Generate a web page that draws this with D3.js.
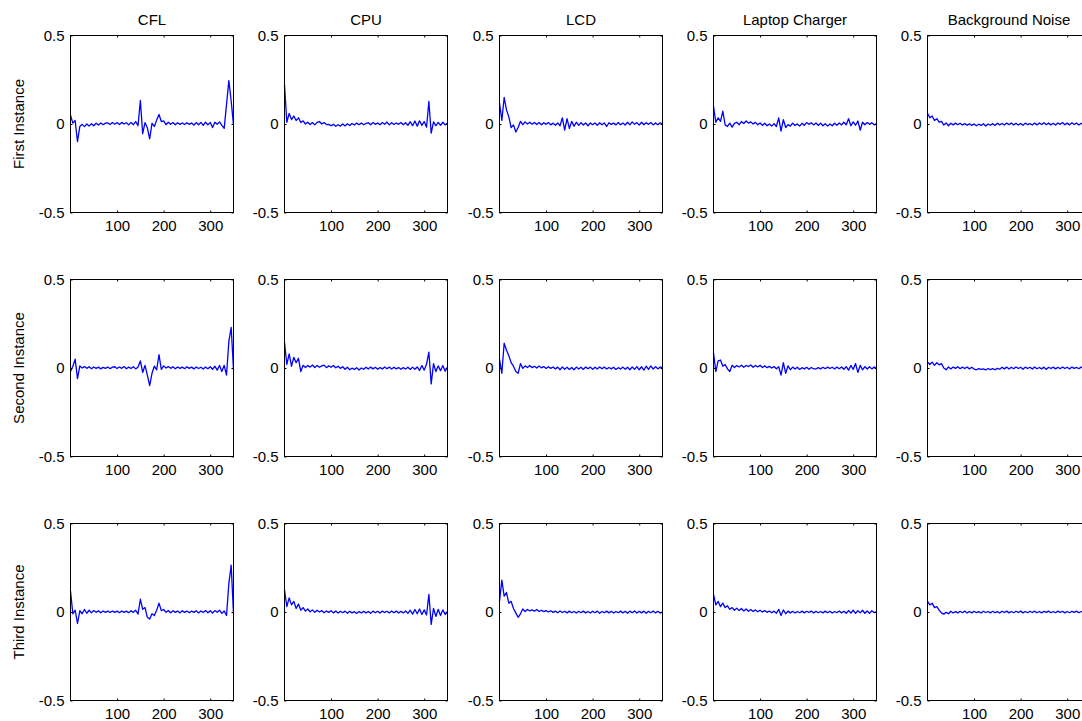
<!DOCTYPE html>
<html lang="en">
<head>
<meta charset="UTF-8">
<script src="https://d3js.org/d3.v7.min.js"></script>
<title>Signal instances</title>
<style>
  body { margin: 0; background: #fff; }
  svg { display: block; font-family: "Liberation Sans", Arial, sans-serif; }
</style>
</head>
<body>
<svg id="chart" width="1082" height="721"></svg>
<script>
const devices = ["CFL", "CPU", "LCD", "Laptop Charger", "Background Noise"];
const instances = ["First Instance", "Second Instance", "Third Instance"];
const xTicks = [100, 200, 300];
const yTicks = [-0.5, 0, 0.5];
const sampleX = d3.range(0, 351, 5); // one sample every 5 points

// signal values, in thousandths
const cflFirst = [50, 5, 20, -100, -14, -2, -15, 0, -12, 2,
  -10, 4, -6, 6, -4, 5, 6, -3, 8, -1,
  8, -3, 9, 0, 7, -5, 9, -4, 14, -10,
  133, -55, 8, -22, -84, 4, -14, 22, 54, 14,
  18, -4, 10, -2, 8, -4, 7, -2, 6, -3,
  7, -2, 6, -6, 8, -4, 9, -8, 10, -5,
  9, -20, 10, -2, 12, -8, -25, 110, 245, 130,
  -5];
const cpuFirst = [220, 10, 60, 25, 45, 20, 35, 8, 18, 0,
  10, -3, 8, -5, 9, 14, 0, 8, -3, -2,
  -10, -2, -13, -4, -12, 0, -11, 1, -9, 3,
  -6, 5, -4, 6, -4, 3, 7, -4, 8, -2,
  6, -4, 9, -2, 11, -5, 7, -3, 6, -2,
  8, -4, 7, -8, 13, -10, 17, -12, 18, -8,
  14, -18, 127, -52, 12, -10, 9, -7, 10, -5,
  6];
const lcdFirst = [120, 20, 150, 80, 40, -20, -5, -45, -20, 15,
  -4, 12, 0, 10, -1, 9, -3, 8, -4, 7,
  -2, 8, -5, 5, -7, 6, -10, 35, -35, 30,
  -25, 15, -12, 10, -8, 8, -6, 6, -10, 6,
  -4, 6, -8, 7, -4, 6, -14, 7, -2, 5,
  -5, 8, -4, 6, -6, 10, -5, 12, -2, 8,
  -6, 10, -4, 7, -2, 8, -5, 6, -4, 7,
  0];
const chargerFirst = [100, 10, 35, 15, 72, -5, -14, 5, -18, 4,
  10, -4, 14, 3, 17, 5, 12, 0, 9, -4,
  6, -8, 4, -10, 0, -12, 2, -14, 35, -40,
  25, -20, -3, -12, 5, -8, 0, -12, 4, -7,
  8, -2, 7, -5, 6, -8, 5, -10, 2, -12,
  0, -10, 4, -7, 6, -5, 10, -4, 30, -10,
  12, -7, 17, -35, 10, -4, 8, -2, 7, -5,
  2];
const noiseFirst = [60, 35, 45, 20, 30, 10, 15, -6, 6, -10,
  4, -5, 5, -4, 4, -6, 2, -7, 1, -8,
  0, -10, -1, -8, 2, -11, 0, -7, 2, -8,
  4, -5, 3, -6, 5, -4, 6, -5, 4, -6,
  3, -7, 5, -4, 2, -6, 5, -5, 6, -3,
  7, -4, 5, -5, 4, -6, 6, -2, 8, -4,
  5, -5, 7, -3, 5, -6, 4, -4, 5, -2,
  2];

const cflSecond = [-20, 10, 50, -60, 12, 0, 8, -2, 7, -4,
  6, -2, 5, -5, 4, -2, 6, -4, 5, 7,
  -3, 6, -2, 8, -4, 5, -3, 7, -5, 6,
  40, -25, 15, -40, -100, -30, 10, -10, 75, -8,
  12, 0, 8, -2, 7, -4, 6, -2, 5, -4,
  7, -2, 5, -5, 6, -3, 4, -6, 5, -4,
  7, -7, 10, -12, 14, -20, 15, -40, 150, 230,
  -10];
const cpuSecond = [145, 20, 80, 10, 60, 30, 55, -20, 15, 3,
  14, 5, 17, 3, 14, 4, 12, 16, 2, 12,
  4, 14, 1, 10, -2, 7, -7, 4, -10, -1,
  -8, 2, -11, 0, -7, 4, -6, 5, -5, 4,
  -7, 3, -5, 6, -4, 5, -6, 4, -5, 3,
  -7, 2, -6, 4, -8, 5, -7, 6, -14, 14,
  -12, 22, 90, -90, 25, -20, 12, -15, 14, -18,
  5];
const lcdSecond = [50, -30, 140, 100, 70, 30, 10, -20, -30, 25,
  -2, 12, 3, 14, 2, 10, 0, 11, 1, 8,
  -3, 7, -2, 6, -5, 5, -10, 6, -7, 4,
  -8, 3, -10, 5, -6, 4, -8, 6, -4, 5,
  -7, 4, -5, 6, -4, 5, -6, 3, -5, 4,
  -8, 2, -6, 5, -7, 4, -10, 6, -8, 8,
  -10, 7, -12, 10, -8, 12, -6, 8, -5, 6,
  0];
const chargerSecond = [85, -20, 40, 45, 10, 20, -5, -20, 15, 3,
  14, 6, 16, 4, 14, 8, 17, 4, 14, 6,
  15, 3, 12, 2, 9, 0, 8, -4, 7, -40,
  30, -30, 12, -10, 5, -6, 4, -8, 2, -5,
  4, -7, 3, -4, -6, 2, -5, 4, -4, 5,
  -3, 4, -6, 5, -4, 6, -7, 8, -12, 14,
  -8, 25, -25, 15, -10, 8, -6, 7, -5, 6,
  -2];
const noiseSecond = [35, 20, 33, 15, 30, 18, 25, 0, -10, 6,
  -5, 6, -2, 7, -4, 5, -3, 6, -5, 4,
  -6, -10, -4, -8, -5, -11, -3, -9, -4, -10,
  -2, -7, 4, -5, 5, -6, 4, -4, 6, -3,
  4, -7, 5, -3, 4, -6, 6, -4, 3, -5,
  5, -8, 4, -3, 5, -5, 4, -4, 6, -3,
  4, -6, 5, -2, 4, -4, 5, -2, 4, -3,
  1];

const cflThird = [120, -10, 10, -65, 7, -10, 14, -7, 10, -5,
  8, -2, 7, -4, 6, -2, 5, -3, 6, -2,
  5, -4, 6, -2, 5, -4, 7, -2, 10, -12,
  72, 15, 25, -30, -40, -10, -20, 10, 50, 8,
  14, -2, 8, -4, 7, -2, 6, -5, 7, -2,
  6, -4, 5, -2, 7, -5, 6, -3, 8, -4,
  7, -6, 8, -2, 10, -8, 6, -20, 160, 265,
  -10];
const cpuThird = [125, 30, 80, 40, 60, 20, 45, 10, 25, 5,
  17, 1, 12, -2, 10, 0, 8, -4, 6, -2,
  7, -5, 5, -6, 4, -4, 5, -7, 4, -5,
  2, -8, 3, -6, 4, -5, 3, -7, 5, -4,
  4, -6, 5, -3, 4, -5, 6, -4, 5, -6,
  4, -5, 6, -8, 10, -12, 14, -10, 17, -14,
  12, -17, 100, -70, 20, -25, 15, -20, 12, -14,
  3];
const lcdThird = [60, 180, 90, 110, 50, 60, 20, -5, -30, -10,
  17, 3, 14, 6, 12, 4, 14, 3, 10, 2,
  8, 0, 7, -2, 5, -4, 6, -3, 4, -5,
  5, -4, 3, -6, 4, -4, 5, -5, 3, -6,
  4, -4, 5, -7, 3, -4, 5, -5, 4, -6,
  3, -4, 5, -5, 4, -7, 5, -4, 6, -6,
  4, -5, 5, -7, 4, -4, 6, -5, 4, -6,
  0];
const chargerThird = [100, 40, 60, 30, 50, 25, 35, 15, 25, 10,
  22, 8, 20, 6, 17, 4, 14, 3, 12, 1,
  10, 0, 8, -2, 6, -4, 5, -7, 15, -20,
  12, -10, 5, -5, 4, -6, 3, -4, 5, -5,
  4, -3, 5, -6, 4, -4, 3, -5, 5, -4,
  4, -6, 3, -4, 6, -5, 4, -7, 8, -6,
  10, -8, 7, -5, 10, -7, 6, -8, 7, -4,
  2];
const noiseThird = [60, 40, 50, 25, 30, 10, -5, -12, -2, -10,
  4, -6, 2, -5, 4, -4, 5, -6, 3, -5,
  4, -4, 2, -6, 4, -3, 3, -5, 4, -4,
  2, -6, 4, -3, 5, -5, 3, -4, 4, -3,
  5, -5, 3, -4, 4, -3, 5, -4, 3, -5,
  4, -2, 5, -4, 3, -4, 5, -3, 4, -5,
  3, -4, 4, -2, 5, -4, 3, -3, 4, -2,
  1];

const signals = [
  [cflFirst, cpuFirst, lcdFirst, chargerFirst, noiseFirst],
  [cflSecond, cpuSecond, lcdSecond, chargerSecond, noiseSecond],
  [cflThird, cpuThird, lcdThird, chargerThird, noiseThird]
];

const svg = d3.select("#chart");

const panelW = 163, panelH = 177;
const left0 = 70, colStep = 214.25;
const top0 = 35, rowStep = 244;
const fontSize = "15px";

const x = d3.scaleLinear().domain([0, 350]).range([0, panelW]);
const y = d3.scaleLinear().domain([-0.5, 0.5]).range([panelH, 0]);

const line = d3.line()
  .x((d, i) => x(sampleX[i]))
  .y(d => y(d / 1000));

signals.forEach((row, r) => {
  row.forEach((values, c) => {
    const px = Math.round(left0 + c * colStep) + 0.5;
    const py = top0 + r * rowStep + 0.5;
    const g = svg.append("g").attr("transform", `translate(${px},${py})`);

    // signal
    g.append("path")
      .datum(values)
      .attr("d", line)
      .attr("fill", "none")
      .attr("stroke", "#0000ff")
      .attr("stroke-width", 1.3)
      .attr("stroke-linejoin", "round");

    // axes, ticks pointing inwards like matlab
    const bottom = g.append("g")
      .attr("transform", `translate(0,${panelH})`)
      .call(d3.axisBottom(x).tickValues(xTicks).tickSize(-2).tickPadding(8));
    const topAx = g.append("g")
      .call(d3.axisTop(x).tickValues(xTicks).tickSize(-2).tickFormat(""));
    const leftAx = g.append("g")
      .call(d3.axisLeft(y).tickValues(yTicks).tickSize(-2).tickPadding(6)
        .tickFormat(d => String(d))); // plain hyphen for the minus
    const rightAx = g.append("g")
      .attr("transform", `translate(${panelW},0)`)
      .call(d3.axisRight(y).tickValues(yTicks).tickSize(-2).tickFormat(""));

    [bottom, topAx, leftAx, rightAx].forEach(a => {
      a.select(".domain").remove();
      a.selectAll("line").attr("stroke", "#000");
      a.selectAll("text")
        .attr("fill", "#000")
        .style("font-size", fontSize)
        .style("font-family", "'Liberation Sans', Arial, sans-serif");
    });

    // box
    g.append("rect")
      .attr("width", panelW)
      .attr("height", panelH)
      .attr("fill", "none")
      .attr("stroke", "#000")
      .attr("stroke-width", 1);

    if (r === 0) {
      g.append("text")
        .attr("x", panelW / 2)
        .attr("y", -11)
        .attr("text-anchor", "middle")
        .style("font-size", fontSize)
        .text(devices[c]);
    }
    if (c === 0) {
      g.append("text")
        .attr("transform", `translate(${24 - px},${panelH / 2}) rotate(-90)`)
        .attr("text-anchor", "middle")
        .style("font-size", fontSize)
        .text(instances[r]);
    }
  });
});
</script>
</body>
</html>
